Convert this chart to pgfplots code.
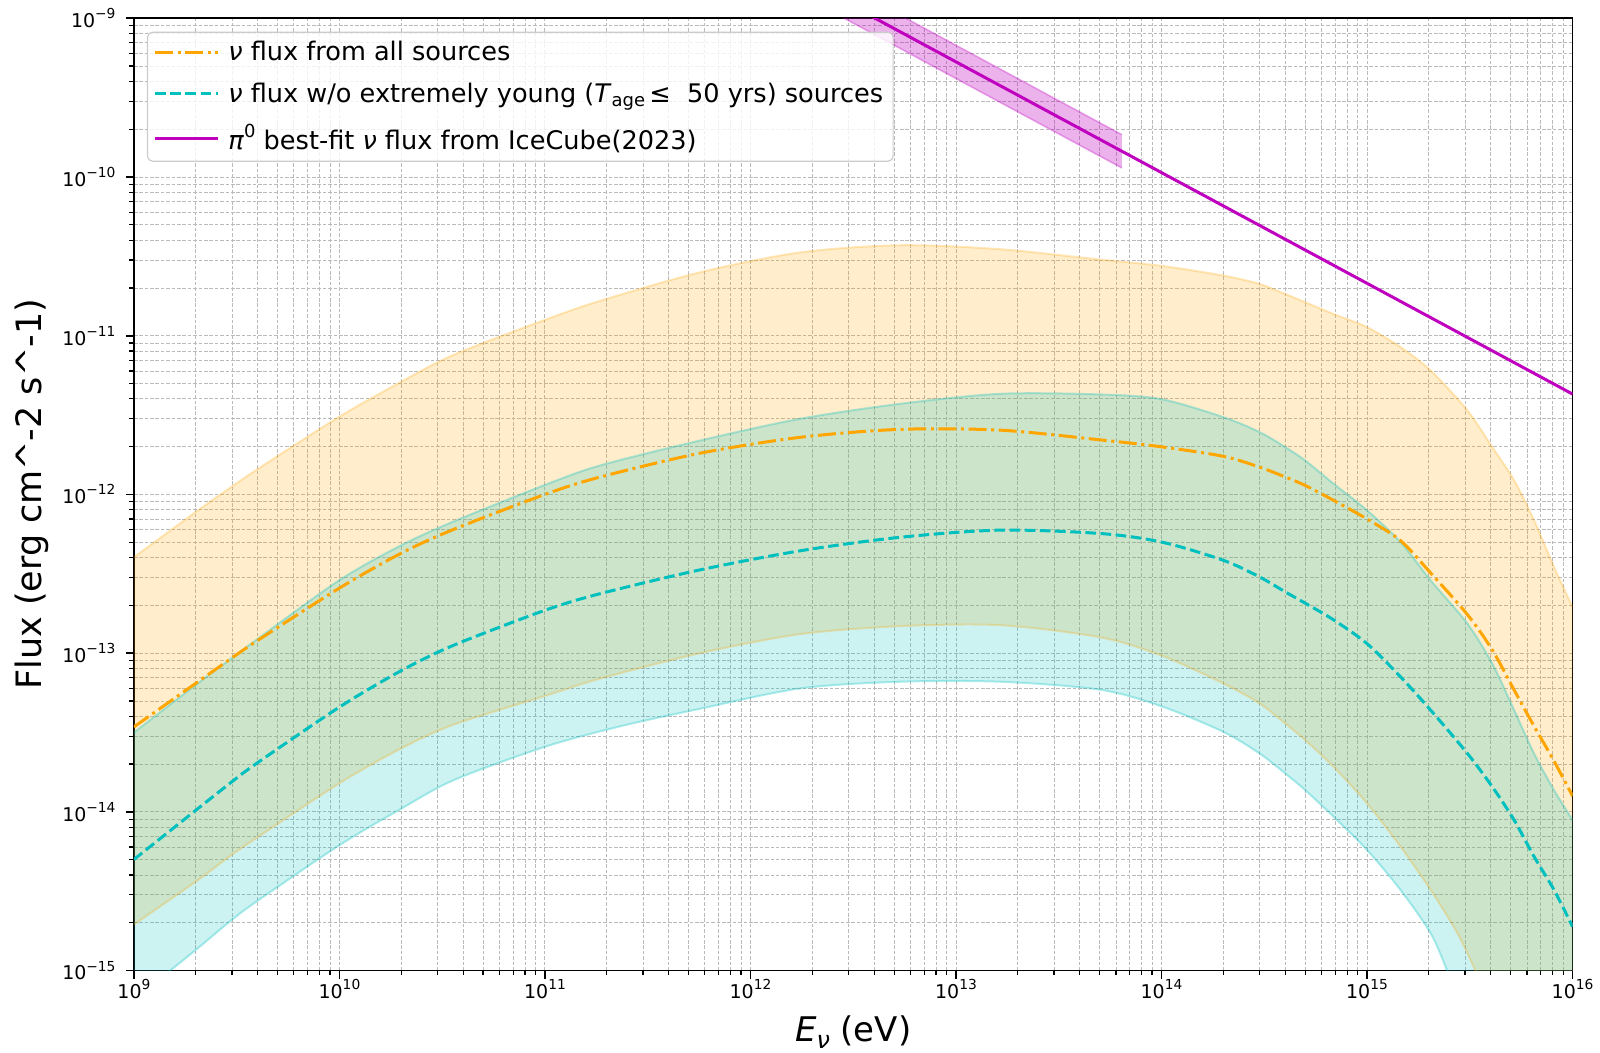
\documentclass[border=0pt]{standalone}
\usepackage{fontspec}
\setmainfont{DejaVu Sans}
\usepackage{pgfplots}
\usepackage{pgfplotstable}
\pgfplotsset{compat=1.18}
\usepgfplotslibrary{fillbetween}
\definecolor{morange}{RGB}{255,165,0}
\definecolor{mcyan}{RGB}{0,191,191}
\definecolor{mmag}{RGB}{191,0,191}
\newcommand{\ep}[1]{10\raisebox{0.85ex}{\fontsize{6.9bp}{7bp}\selectfont #1}}

% orange band upper
\pgfplotstableread[row sep=\\]{
E F\\
1e9 4.02e-13\\
2e9 7.762e-13\\
3e9 1.122e-12\\
4e9 1.445e-12\\
1e10 3.090e-12\\
2e10 5.129e-12\\
3.6e10 7.586e-12\\
1e11 1.259e-11\\
1.86e11 1.660e-11\\
5.7e11 2.512e-11\\
1.75e12 3.350e-11\\
5.35e12 3.715e-11\\
1.64e13 3.508e-11\\
5.02e13 3.020e-11\\
1e14 2.754e-11\\
2e14 2.393e-11\\
3e14 2.118e-11\\
4e14 1.832e-11\\
5e14 1.626e-11\\
6.87e14 1.371e-11\\
1e15 1.132e-11\\
1.455e15 8.472e-12\\
2.04e15 6.039e-12\\
3.08e15 3.381e-12\\
4.07e15 1.986e-12\\
5.2e15 1.227e-12\\
6.5e15 6.871e-13\\
8.13e15 3.491e-13\\
1e16 1.954e-13\\
}\AU
% orange band lower
\pgfplotstableread[row sep=\\]{
E F\\
1e9 1.950e-15\\
2e9 3.631e-15\\
3e9 5.370e-15\\
4e9 6.918e-15\\
1e10 1.514e-14\\
2e10 2.512e-14\\
3.6e10 3.548e-14\\
1e11 5.370e-14\\
1.86e11 6.918e-14\\
5.7e11 1.0e-13\\
1.75e12 1.318e-13\\
5.35e12 1.479e-13\\
1.64e13 1.500e-13\\
5.02e13 1.259e-13\\
1e14 9.66e-14\\
2e14 6.442e-14\\
3e14 4.819e-14\\
4e14 3.606e-14\\
5e14 2.831e-14\\
6.87e14 1.923e-14\\
1e15 1.130e-14\\
1.455e15 6.039e-15\\
2.04e15 3.221e-15\\
2.754e15 1.718e-15\\
3.37e15 1.0e-15\\
4.07e15 6.03e-16\\
1e16 3.16e-17\\
}\AL
% orange dash-dot
\pgfplotstableread[row sep=\\]{
E F\\
1e9 3.428e-14\\
2e9 6.457e-14\\
3e9 9.333e-14\\
4e9 1.202e-13\\
1e10 2.570e-13\\
2e10 4.266e-13\\
3.6e10 6.026e-13\\
1e11 1.0e-12\\
1.86e11 1.288e-12\\
5.7e11 1.820e-12\\
1.75e12 2.291e-12\\
5.35e12 2.570e-12\\
1.64e13 2.541e-12\\
5.02e13 2.208e-12\\
1e14 1.995e-12\\
2e14 1.738e-12\\
3e14 1.486e-12\\
4e14 1.288e-12\\
5e14 1.140e-12\\
6.87e14 9.183e-13\\
1e15 7.0e-13\\
1.455e15 5.12e-13\\
2.04e15 3.20e-13\\
3.08e15 1.75e-13\\
4.07e15 1.047e-13\\
5.2e15 5.848e-14\\
6.5e15 3.467e-14\\
8.13e15 2.089e-14\\
1e16 1.259e-14\\
}\AM
% cyan band upper
\pgfplotstableread[row sep=\\]{
E F\\
1e9 3.162e-14\\
2e9 6.310e-14\\
3e9 9.333e-14\\
4e9 1.230e-13\\
1e10 2.884e-13\\
2e10 4.786e-13\\
3.6e10 6.761e-13\\
1e11 1.148e-12\\
1.86e11 1.524e-12\\
5.7e11 2.188e-12\\
1.75e12 2.999e-12\\
5.35e12 3.724e-12\\
1.64e13 4.305e-12\\
5.02e13 4.266e-12\\
1e14 3.981e-12\\
2e14 3.069e-12\\
3e14 2.472e-12\\
4e14 1.986e-12\\
5e14 1.637e-12\\
6.87e14 1.169e-12\\
1e15 7.943e-13\\
1.455e15 5.012e-13\\
2.04e15 2.877e-13\\
3.08e15 1.535e-13\\
4.07e15 8.590e-14\\
5.2e15 4.375e-14\\
6.5e15 2.333e-14\\
8.13e15 1.371e-14\\
1e16 8.913e-15\\
}\BU
% cyan dashed
\pgfplotstableread[row sep=\\]{
E F\\
1e9 5.012e-15\\
2e9 1.023e-14\\
3e9 1.549e-14\\
4e9 2.042e-14\\
1e10 4.571e-14\\
2e10 7.762e-14\\
3.6e10 1.122e-13\\
1e11 1.862e-13\\
1.86e11 2.371e-13\\
5.7e11 3.350e-13\\
1.75e12 4.416e-13\\
5.35e12 5.370e-13\\
1.64e13 5.957e-13\\
5.02e13 5.675e-13\\
1e14 5.012e-13\\
2e14 3.846e-13\\
3e14 3.020e-13\\
4e14 2.432e-13\\
5e14 2.065e-13\\
6.87e14 1.622e-13\\
1e15 1.148e-13\\
1.455e15 7.096e-14\\
2.04e15 4.375e-14\\
3.08e15 2.333e-14\\
4.07e15 1.439e-14\\
5.2e15 8.872e-15\\
6.5e15 5.224e-15\\
8.13e15 3.221e-15\\
1e16 1.892e-15\\
}\BM
% cyan band lower
\pgfplotstableread[row sep=\\]{
E F\\
1e9 6.457e-16\\
1.503e9 1.0e-15\\
2e9 1.349e-15\\
3e9 2.089e-15\\
4e9 2.754e-15\\
1e10 6.166e-15\\
2e10 1.047e-14\\
3.6e10 1.585e-14\\
1e11 2.570e-14\\
2.34e11 3.467e-14\\
5.7e11 4.467e-14\\
1.75e12 5.998e-14\\
5.35e12 6.607e-14\\
1.64e13 6.607e-14\\
5.02e13 5.888e-14\\
1e14 4.624e-14\\
2e14 3.192e-14\\
3e14 2.333e-14\\
4e14 1.746e-14\\
5e14 1.371e-14\\
6.87e14 9.333e-15\\
1e15 5.754e-15\\
1.455e15 3.221e-15\\
2.04e15 1.718e-15\\
2.455e15 1.0e-15\\
3.08e15 5.01e-16\\
1e16 1e-17\\
}\BL

\begin{document}
\begin{tikzpicture}
\begin{axis}[
  width=720bp, height=476.6bp, scale only axis,
  xmode=log, ymode=log, log basis x=10, log basis y=10,
  xmin=1e9, xmax=1e16, ymin=1e-15, ymax=1e-9,
  xtick={1e9,1e10,1e11,1e12,1e13,1e14,1e15,1e16},
  xticklabels={\ep{9},\ep{10},\ep{11},\ep{12},\ep{13},\ep{14},\ep{15},\ep{16}},
  ytick={1e-15,1e-14,1e-13,1e-12,1e-11,1e-10,1e-9},
  yticklabels={\ep{−15},\ep{−14},\ep{−13},\ep{−12},\ep{−11},\ep{−10},\ep{−9}},
  minor xtick={2e9,3e9,4e9,5e9,6e9,7e9,8e9,9e9,2e10,3e10,4e10,5e10,6e10,7e10,8e10,9e10,2e11,3e11,4e11,5e11,6e11,7e11,8e11,9e11,2e12,3e12,4e12,5e12,6e12,7e12,8e12,9e12,2e13,3e13,4e13,5e13,6e13,7e13,8e13,9e13,2e14,3e14,4e14,5e14,6e14,7e14,8e14,9e14,2e15,3e15,4e15,5e15,6e15,7e15,8e15,9e15},
  minor ytick={2e-15,3e-15,4e-15,5e-15,6e-15,7e-15,8e-15,9e-15,2e-14,3e-14,4e-14,5e-14,6e-14,7e-14,8e-14,9e-14,2e-13,3e-13,4e-13,5e-13,6e-13,7e-13,8e-13,9e-13,2e-12,3e-12,4e-12,5e-12,6e-12,7e-12,8e-12,9e-12,2e-11,3e-11,4e-11,5e-11,6e-11,7e-11,8e-11,9e-11,2e-10,3e-10,4e-10,5e-10,6e-10,7e-10,8e-10,9e-10},
  grid=both,
  major grid style={black!27, dash pattern=on 1.8bp off 0.9bp, line width=0.45bp},
  minor grid style={black!27, dash pattern=on 1.8bp off 0.9bp, line width=0.4bp},
  tick align=outside, xtick pos=bottom, ytick pos=left,
  major tick length=4bp, minor tick length=2.3bp,
  major tick style={black, line width=0.8bp},
  minor tick style={black, line width=0.6bp},
  axis line style={black, line width=0.9bp},
  tick label style={font=\fontsize{9.5bp}{11bp}\selectfont},
  xticklabel style={yshift=3bp},
  yticklabel style={xshift=-1.7bp},
  xlabel={\textit{E}\raisebox{-0.4ex}{\fontsize{12bp}{13bp}\selectfont\textit{ν}} (eV)},
  ylabel={Flux (erg cm\textasciicircum-2 s\textasciicircum-1)},
  every axis x label/.style={at={(axis description cs:0.5,-0.0745)}, anchor=base, inner sep=0pt, font=\fontsize{17bp}{20bp}\selectfont},
  every axis y label/.style={at={(axis description cs:-0.0709,0.5)}, anchor=center, rotate=90, inner sep=0pt, font=\fontsize{17.5bp}{20bp}\selectfont},
  legend style={at={(axis description cs:0,1)}, anchor=north west, xshift=6.5bp, yshift=-6.7bp,
    draw=black!20, line width=0.6bp, fill=white, fill opacity=0.8, text opacity=1,
    rounded corners=2.5bp, font=\fontsize{12.8bp}{15bp}\selectfont,
    inner xsep=3bp, inner ysep=2.5bp, row sep=5.5bp, cells={anchor=west}},
  legend image code/.code={\draw[#1] (0bp,0bp) -- (31.5bp,0bp); \path (34bp,0bp);},
]
% orange band
\addplot[name path=au, draw=morange, draw opacity=0.25, line width=1bp, smooth, forget plot] table[x=E,y=F] {\AU};
\addplot[name path=al, draw=morange, draw opacity=0.25, line width=1bp, smooth, forget plot] table[x=E,y=F] {\AL};
\addplot[fill=morange, fill opacity=0.2, draw=none, forget plot] fill between[of=au and al];
% cyan band
\addplot[name path=bu, draw=mcyan, draw opacity=0.3, line width=1bp, smooth, forget plot] table[x=E,y=F] {\BU};
\addplot[name path=bl, draw=mcyan, draw opacity=0.3, line width=1bp, smooth, forget plot] table[x=E,y=F] {\BL};
\addplot[fill=mcyan, fill opacity=0.2, draw=none, forget plot] fill between[of=bu and bl];
% IceCube band
\addplot[name path=mu, draw=mmag, draw opacity=0.3, line width=0.8bp, forget plot] coordinates {(1.995e12,2.084e-9) (6.412e13,1.849e-10)};
\addplot[name path=ml, draw=mmag, draw opacity=0.3, line width=0.8bp, forget plot] coordinates {(1.995e12,1.285e-9) (6.412e13,1.140e-10)};
\addplot[fill=mmag, fill opacity=0.3, draw=none, forget plot] fill between[of=mu and ml];
% lines
\addplot[morange, line width=1.5bp, smooth, dash pattern=on 9bp off 2.3bp on 1.5bp off 2.3bp] table[x=E,y=F] {\AM};
\addlegendentry{\textit{ν} flux from all sources}
\addplot[mcyan, line width=1.5bp, smooth, dash pattern=on 5.3bp off 2.3bp] table[x=E,y=F] {\BM};
\addlegendentry{\textit{ν} flux w/o extremely young (\textit{T}\raisebox{-0.35ex}{\fontsize{9bp}{10bp}\selectfont age}\,≤~~50 yrs) sources}
\addplot[mmag, line width=1.5bp] coordinates {(2.512e12,1.393e-9) (1e16,4.29e-12)};
\addlegendentry{\textit{π}\raisebox{0.85ex}{\fontsize{9bp}{10bp}\selectfont 0} best-fit \textit{ν} flux from IceCube(2023)}
\end{axis}
\path (current bounding box.south west) ++(-7.5bp,-2bp);
\path (current bounding box.north east) ++(0bp,1bp);
\end{tikzpicture}
\end{document}
